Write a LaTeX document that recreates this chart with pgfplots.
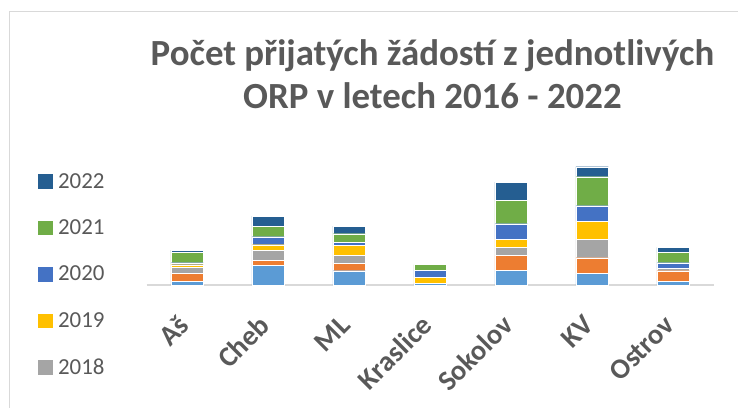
\documentclass[border=0pt]{standalone}
\usepackage{fontspec}
\setmainfont{Carlito}
\usepackage{pgfplots}
\pgfplotsset{compat=1.18}
\definecolor{c16}{HTML}{5B9BD5}
\definecolor{c17}{HTML}{ED7D31}
\definecolor{c18}{HTML}{A5A5A5}
\definecolor{c19}{HTML}{FFC000}
\definecolor{c20}{HTML}{4472C4}
\definecolor{c21}{HTML}{70AD47}
\definecolor{c22}{HTML}{255E91}
\definecolor{txt}{HTML}{595959}
\definecolor{linec}{HTML}{D9D9D9}
\pgfplotsset{
  bs/.style={fill=#1, draw=white, line width=0.3bp,
    legend image code/.code={\fill[#1] (0bp,-6.7bp) rectangle (13.4bp,6.7bp);}}
}
\begin{document}
\begin{tikzpicture}[x=1bp,y=1bp]
\useasboundingbox (0,0) rectangle (738,407);
\clip (0,0) rectangle (738,407);
\draw[linec, line width=1.5bp] (9.5,-20) -- (9.5,395.5) -- (760,395.5);
\node[anchor=base, text=txt, font=\bfseries\fontsize{37}{37}\selectfont] at (432.5,342) {Počet přijatých žádostí z jednotlivých};
\node[anchor=base, text=txt, font=\bfseries\fontsize{37}{37}\selectfont] at (432.5,299) {ORP v letech 2016 - 2022};
\begin{axis}[
  at={(146.5bp,122bp)}, anchor=south west,
  scale only axis, width=567bp, height=135bp,
  xmin=-0.5, xmax=6.5, ymin=0, ymax=135,
  ybar stacked, bar width=32.5bp,
  hide y axis,
  axis x line*=bottom,
  x axis line style={linec, line width=1.5bp},
  xtick={0,1,2,3,4,5,6},
  xticklabels={Aš,Cheb,ML,Kraslice,Sokolov,KV,Ostrov},
  major tick length=0pt,
  xticklabel style={xshift=-1bp, yshift=-33bp, rotate=45, anchor=east, text=txt, font=\bfseries\fontsize{28.5}{28.5}\selectfont},
  clip=false,
  reverse legend,
  legend cell align=left,
  legend style={at={(axis description cs:-0.191,0.83)}, anchor=north west, draw=none, fill=none,
    font=\fontsize{23}{23}\selectfont, text=txt, row sep=30bp, inner sep=0pt,
    nodes={inner sep=0pt},
    /tikz/every odd column/.append style={column sep=6bp}},
]
\addplot[bs=c16, forget plot] coordinates {(0,3.7) (1,19.7) (2,14.3) (3,1.5) (4,14.7) (5,11.7) (6,3.7)};
\addplot[bs=c17, forget plot] coordinates {(0,8) (1,5) (2,7.7) (3,0.3) (4,15) (5,15.6) (6,10.6)};
\addplot[bs=c18] coordinates {(0,6) (1,10.3) (2,7.7) (3,0) (4,8) (5,18.4) (6,2.7)};
\addplot[bs=c19] coordinates {(0,2.6) (1,5.3) (2,10.3) (3,6) (4,8.3) (5,18.3) (6,0)};
\addplot[bs=c20] coordinates {(0,2) (1,8) (2,2.7) (3,7) (4,15.3) (5,15.3) (6,5.3)};
\addplot[bs=c21] coordinates {(0,10.7) (1,10.7) (2,8.6) (3,5.7) (4,23.3) (5,29) (6,10.4)};
\addplot[bs=c22] coordinates {(0,2) (1,10) (2,7.7) (3,0) (4,18.3) (5,10) (6,5)};
\legend{2018,2019,2020,2021,2022}
\end{axis}
\end{tikzpicture}
\end{document}
